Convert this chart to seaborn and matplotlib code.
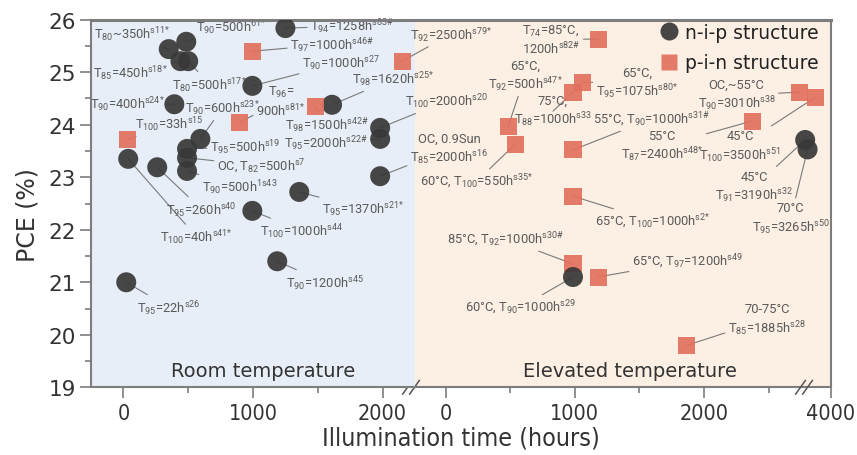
import numpy as np
import pandas as pd
import matplotlib
matplotlib.use("Agg")
import matplotlib.pyplot as plt
import seaborn as sns
from matplotlib import font_manager as fm
from matplotlib.lines import Line2D

# ---------------- data ----------------
# Room temperature, n-i-p
rt_nip_hours = [350, 485, 440, 500, 1250, 995, 393, 1610, 594, 37, 261, 491, 491, 491,
                995, 1357, 1187, 22, 1981, 1981, 1981]
rt_nip_pce = [25.44, 25.58, 25.21, 25.21, 25.84, 24.74, 24.39, 24.38, 23.73, 23.35, 23.19,
              23.54, 23.37, 23.12, 22.36, 22.72, 21.40, 21.00, 23.94, 23.73, 23.02]
rt_nip_labels = ["T$_{80}$~350h$^{s11{*}}$", "T$_{90}$=500h$^{61{*}}$", "T$_{85}$=450h$^{s18{*}}$",
                 "T$_{80}$=500h$^{s17{*}}$", "T$_{94}$=1258h$^{s83\\#}$", "T$_{90}$=1000h$^{s27}$",
                 "T$_{90}$=400h$^{s24{*}}$", "T$_{98}$=1620h$^{s25{*}}$", "T$_{90}$=600h$^{s23{*}}$",
                 "T$_{100}$=40h$^{s41{*}}$", "T$_{95}$=260h$^{s40}$", "T$_{95}$=500h$^{s19}$",
                 "OC, T$_{82}$=500h$^{s7}$", "T$_{90}$=500h$^{1s43}$", "T$_{100}$=1000h$^{s44}$",
                 "T$_{95}$=1370h$^{s21{*}}$", "T$_{90}$=1200h$^{s45}$", "T$_{95}$=22h$^{s26}$",
                 "T$_{100}$=2000h$^{s20}$", "T$_{95}$=2000h$^{s22\\#}$",
                 "OC, 0.9Sun\nT$_{85}$=2000h$^{s16}$"]

# Room temperature, p-i-n
rt_pin_hours = [995, 893, 1480, 29, 2150]
rt_pin_pce = [25.40, 24.04, 24.34, 23.71, 25.21]
rt_pin_labels = ["T$_{97}$=1000h$^{s46\\#}$", "T$_{96}$=\n900h$^{s81{*}}$", "T$_{98}$=1500h$^{s42\\#}$",
                 "T$_{100}$=33h$^{s15}$", "T$_{92}$=2500h$^{s79{*}}$"]

# Elevated temperature, p-i-n
et_pin_hours = [1180, 1063, 986, 483, 539, 986, 986, 986, 1180, 1868, 2372, 3010, 3500]
et_pin_pce = [25.63, 24.81, 24.62, 23.96, 23.63, 23.52, 22.64, 21.35, 21.10, 19.80, 24.07, 24.62, 24.52]
et_pin_labels = ["T$_{74}$=85°C,\n1200h$^{s82\\#}$", "65°C,\nT$_{95}$=1075h$^{s80{*}}$",
                 "75°C,\nT$_{88}$=1000h$^{s33}$", "65°C,\nT$_{92}$=500h$^{s47{*}}$",
                 "60°C, T$_{100}$=550h$^{s35{*}}$", "55°C, T$_{90}$=1000h$^{s31\\#}$",
                 "65°C, T$_{100}$=1000h$^{s2{*}}$", "85°C, T$_{92}$=1000h$^{s30\\#}$",
                 "65°C, T$_{97}$=1200h$^{s49}$", "70-75°C\nT$_{85}$=1885h$^{s28}$",
                 "55°C\nT$_{87}$=2400h$^{s48{*}}$", "OC,~55°C\nT$_{90}$=3010h$^{s38}$",
                 "45°C\nT$_{100}$=3500h$^{s51}$"]

# Elevated temperature, n-i-p
et_nip_hours = [986, 3190, 3265]
et_nip_pce = [21.10, 23.71, 23.53]
et_nip_labels = ["60°C, T$_{90}$=1000h$^{s29}$", "45°C\nT$_{91}$=3190h$^{s32}$",
                 "70°C\nT$_{95}$=3265h$^{s50}$"]

legend_labels = ["n-i-p structure", "p-i-n structure"]
panel_titles = ["Room temperature", "Elevated temperature"]

# ---------------- label placement (offset pixels from the mark, ha) ----------------
rt_nip_off = [(-75, 15, "left"), (10, 15, "left"), (-87, -11, "left"), (-16, -23, "left"),
              (25, 2, "left"), (50, 23, "left"), (-10, 1, "right"), (20, 26, "left"),
              (-15, 31, "left"), (32, -78, "left"), (9, -42, "left"), (23, 2, "left"),
              (30, -8, "left"), (15, -16, "left"), (8, -20, "left"), (23, -17, "left"),
              (9, -21, "left"), (11, -25, "left"), (25, 27, "left"), (-12, -4, "right"),
              (30, 27, "left")]
rt_pin_off = [(38, 7, "left"), (42, 22, "center"), (-30, -18, "left"), (8, 16, "left"),
              (8, 27, "left")]
et_pin_off = [(-18, 0, "right"), (13, -1, "left"), (-20, -19, "center"), (17, 51, "center"),
              (-95, -37, "left"), (20, 31, "left"), (22, -25, "left"), (-126, 25, "left"),
              (34, 16, "left"), (80, 26, "center"), (-90, -25, "center"), (-63, -3, "center"),
              (-75, -49, "center")]
et_nip_off = [(-52, -30, "center"), (-51, -47, "center"), (-17, -69, "center")]

# ---------------- style ----------------
sns.set_theme(style="white")
plt.rcParams["font.family"] = ["DejaVu Sans"]
plt.rcParams["mathtext.default"] = "regular"


def has_font(name):
    try:
        fm.findfont(fm.FontProperties(family=name), fallback_to_default=False)
        return True
    except Exception:
        return False


ANN_FONT = "Roboto" if has_font("Roboto") else "DejaVu Sans"
_cond = fm.findfont(fm.FontProperties(family="DejaVu Sans", stretch="condensed"))
CONDENSED = "condensed" in _cond.lower()

NIP = "#383838"
PIN = "#E2705E"
TXT = "#5a5a5a"
LINE = "#7a7a7a"
SPINE = "#7d7d7d"
BLUE = "#E8EEF7"
PEACH = "#FCEFE3"

W, H = 857, 456
L, R, T, B = 91, 831, 20.7, 388.3
XB = 415

fig = plt.figure(figsize=(W / 100, H / 100), dpi=100)
ax1 = fig.add_axes([L / W, (H - B) / H, (XB - L) / W, (B - T) / H])
ax2 = fig.add_axes([XB / W, (H - B) / H, (R - XB) / W, (B - T) / H])
ax1.set_zorder(2)
ax2.set_zorder(1)
ax1.set_facecolor(BLUE)
ax2.set_facecolor(PEACH)

S_CIRC, S_SQ = 207, 150


def draw(ax, hours, pce, marker, color, size):
    df = pd.DataFrame({"hours": hours, "pce": pce})
    sns.scatterplot(data=df, x="hours", y="pce", ax=ax, marker=marker, s=size, color=color,
                    alpha=0.92, edgecolor="none", linewidth=0, zorder=3, legend=False)


draw(ax1, rt_nip_hours, rt_nip_pce, "o", NIP, S_CIRC)
draw(ax1, rt_pin_hours, rt_pin_pce, "s", PIN, S_SQ)
draw(ax2, et_pin_hours, et_pin_pce, "s", PIN, S_SQ)
draw(ax2, et_nip_hours, et_nip_pce, "o", NIP, S_CIRC)

# broken scale for the elevated-temperature panel
K, RR = 2650.0, 0.2467


def fwd(x):
    x = np.asarray(x, dtype=float)
    return np.where(x <= K, x, K + (x - K) * RR)


def inv(y):
    y = np.asarray(y, dtype=float)
    return np.where(y <= K, y, K + (y - K) / RR)


ax2.set_xscale("function", functions=(fwd, inv))

ax1.set_xlim(-250, 2250)
ax2.set_xlim(-237, 4000)
for ax in (ax1, ax2):
    ax.set_ylim(19, 26)
    ax.set_xlabel("")
    ax.set_ylabel("")


def annotate(ax, hours, pce, labels, offs):
    for x, y, lab, (dx, dy, ha) in zip(hours, pce, labels, offs):
        ax.annotate(lab, xy=(x, y), xytext=(dx, dy), textcoords="offset pixels",
                    ha=ha, va="center", multialignment="center", fontsize=9.3,
                    color=TXT, family=ANN_FONT, zorder=2, annotation_clip=False,
                    arrowprops=dict(arrowstyle="-", color=LINE, lw=0.8,
                                    shrinkA=0, shrinkB=0))


annotate(ax1, rt_nip_hours, rt_nip_pce, rt_nip_labels, rt_nip_off)
annotate(ax1, rt_pin_hours, rt_pin_pce, rt_pin_labels, rt_pin_off)
annotate(ax2, et_pin_hours, et_pin_pce, et_pin_labels, et_pin_off)
annotate(ax2, et_nip_hours, et_nip_pce, et_nip_labels, et_nip_off)

# spines
for ax in (ax1, ax2):
    for s in ax.spines.values():
        s.set_color(SPINE)
        s.set_linewidth(1.5)
    ax.spines["top"].set_linewidth(2.2)
ax1.spines["right"].set_visible(False)
ax2.spines["left"].set_visible(False)

# ticks
if CONDENSED:
    tick_font = dict(fontsize=15.5, family="DejaVu Sans", stretch="condensed")
    lab_font = dict(fontsize=18, family="DejaVu Sans", stretch="condensed")
else:
    tick_font = dict(fontsize=14)
    lab_font = dict(fontsize=16)

ax1.set_xticks([0, 1000, 2000], ["0", "1000", "2000"], color="#333333", **tick_font)
ax1.set_xticks([500, 1500], minor=True)
ax2.set_xticks([0, 1000, 2000, 4000], ["0", "1000", "2000", "4000"], color="#333333", **tick_font)
ax2.set_xticks([500, 1500, 2500], minor=True)
ax1.set_yticks(range(19, 27), [str(v) for v in range(19, 27)], color="#333333", fontsize=15.5)
ax1.set_yticks(np.arange(19.5, 26, 1.0), minor=True)
for ax in (ax1, ax2):
    ax.tick_params(axis="x", which="major", bottom=True, length=8, width=1.2, color=SPINE,
                   direction="out", pad=3)
    ax.tick_params(axis="x", which="minor", bottom=True, length=4, width=1.2, color=SPINE,
                   direction="out")
ax1.tick_params(axis="y", which="major", left=True, length=8, width=1.2, color=SPINE,
                direction="out", pad=3)
ax1.tick_params(axis="y", which="minor", left=True, length=4, width=1.2, color=SPINE,
                direction="out")
ax2.tick_params(axis="y", which="both", left=False, labelleft=False)

# panel titles
ax1.text(0.53, 0.045, panel_titles[0], transform=ax1.transAxes, ha="center", va="center",
         fontsize=14, color="#333333")
ax2.text(0.517, 0.045, panel_titles[1], transform=ax2.transAxes, ha="center", va="center",
         fontsize=14, color="#333333")

# legend
h1 = Line2D([], [], marker="o", ls="", markersize=13, markerfacecolor=NIP,
            markeredgecolor="none", alpha=0.92)
h2 = Line2D([], [], marker="s", ls="", markersize=12, markerfacecolor=PIN,
            markeredgecolor="none", alpha=0.92)
leg = ax2.legend([h1, h2], legend_labels, loc="upper right", bbox_to_anchor=(0.978, 1.0),
                 frameon=False, fontsize=13.5, handletextpad=0.35, labelspacing=0.62,
                 borderaxespad=0.0, borderpad=0.15, handlelength=1.0)
for t in leg.get_texts():
    t.set_color("#222222")

# axis titles
fig.text(461 / W, 1 - 439 / H, "Illumination time (hours)", ha="center", va="center",
         color="#333333", **lab_font)
fig.text(27 / W, 1 - 215 / H, "PCE (%)", ha="center", va="center", rotation=90,
         fontsize=17, color="#333333")

# axis-break marks
for xp in (411, 804):
    for off in (-3.5, 3.5):
        fig.add_artist(Line2D([(xp + off - 5) / W, (xp + off + 5) / W],
                              [(H - B - 7) / H, (H - B + 7) / H],
                              color="#555555", lw=1.1))

fig.savefig("out.png", dpi=100)
